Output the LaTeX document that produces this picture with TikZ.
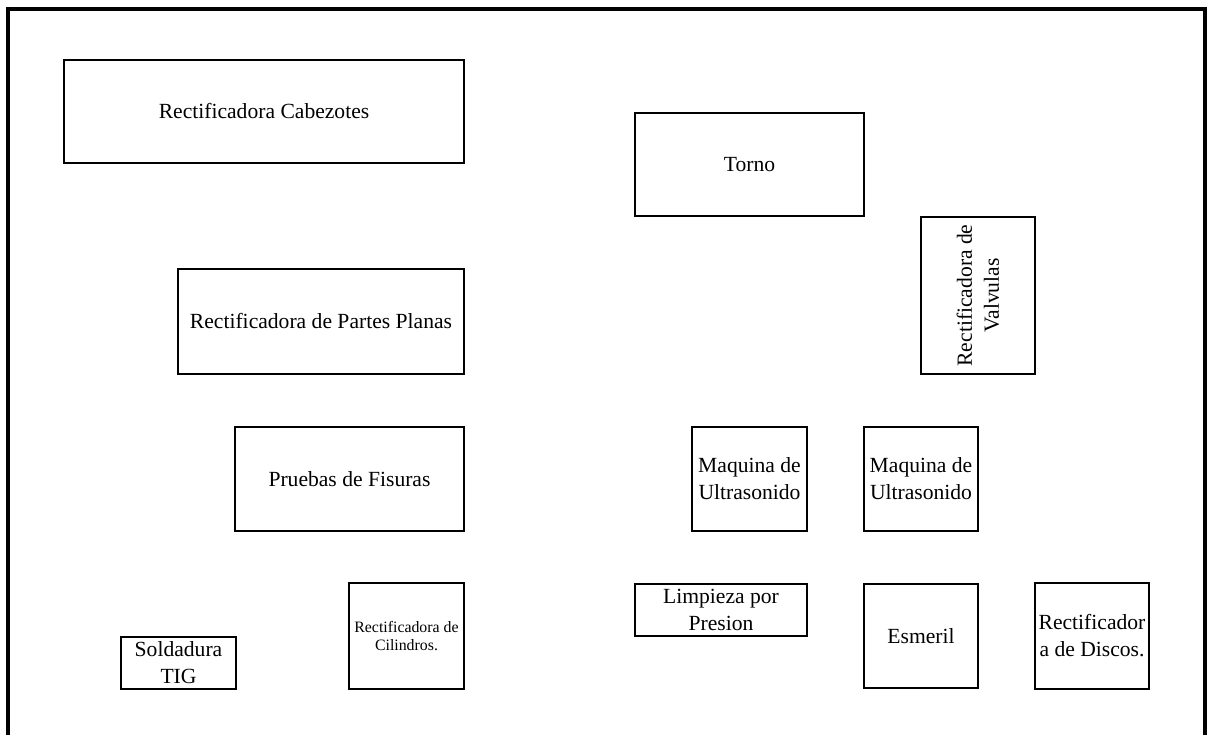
\documentclass[tikz,border=0pt]{standalone}
\usepackage{fontspec}
\setmainfont{Liberation Serif}
\usetikzlibrary{positioning}
\tikzset{
  maq/.style={rectangle,draw=black,line width=1.3pt,inner sep=1pt,
    align=center,font=\fontsize{12}{15}\selectfont},
  sz/.style 2 args={minimum width=#1*0.5556pt,minimum height=#2*0.5556pt},
  wall/.style={draw=black,line width=1.7pt}
}
\begin{document}
\begin{tikzpicture}[x=0.5556pt,y=-0.5556pt]
  \useasboundingbox (0,0) rectangle (1207,735);
  % walls of the workshop
  \draw[wall] (8,735) -- (8,9) -- (1205,9) -- (1205,735);
  % machines, left side
  \node[maq, sz={400}{103}] (cab) at (264,111.5) {Rectificadora Cabezotes};
  \node[maq, sz={286}{105}] (planas) at (321,321.5) {Rectificadora de Partes Planas};
  \node[maq, sz={229}{104}] (fisuras) at (349.5,479) {Pruebas de Fisuras};
  \node[maq, sz={115}{52}] (tig) at (178.5,663) {Soldadura\\TIG};
  \node[maq, sz={115}{106}, font=\fontsize{8.8}{10.5}\selectfont] (cil) at (406.5,636)
    {Rectificadora de\\Cilindros.};
  % machines, right side
  \node[maq, sz={229}{103}] (torno) at (749.5,164.5) {Torno};
  \node[maq, sz={157}{114}, rotate=90] (valv) at (978,295.5)
    {Rectificadora de\\Valvulas};
  \node[maq, sz={115}{104}] (ultraA) at (749.5,479) {Maquina de\\Ultrasonido};
  \node[maq, sz={114}{104}] (ultraB) at (921,479) {Maquina de\\Ultrasonido};
  \node[maq, sz={172}{52}] (limp) at (721,610) {Limpieza por\\Presion};
  \node[maq, sz={114}{104}] (esm) at (921,636) {Esmeril};
  \node[maq, sz={114}{106}] (disc) at (1092,636) {Rectificador\\a de Discos.};
\end{tikzpicture}
\end{document}
